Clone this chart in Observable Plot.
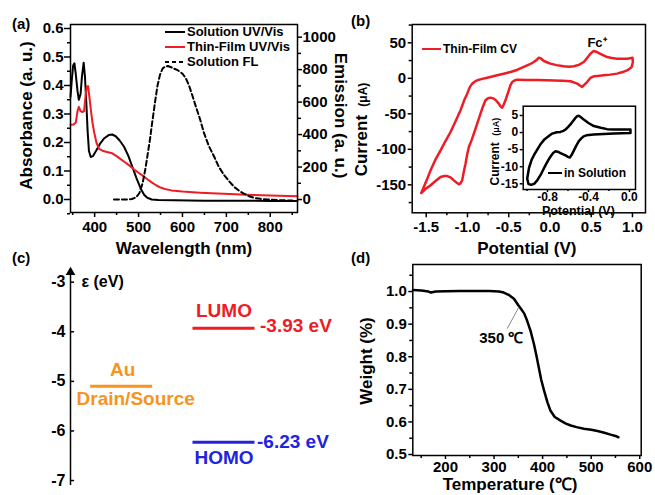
<!DOCTYPE html>
<html><head><meta charset="utf-8">
<script src="https://cdn.jsdelivr.net/npm/d3@7"></script>
<script src="https://cdn.jsdelivr.net/npm/@observablehq/plot@0.6"></script>
<style>
html,body{margin:0;padding:0;background:#fff;}
#root{position:relative;width:655px;height:495px;overflow:hidden;font-family:"Liberation Sans",Arial,sans-serif;font-weight:bold;color:#000;}
.panel{position:absolute;}
.panel svg{overflow:visible;display:block;}
.panel svg text{font-weight:bold;}
.plab{position:absolute;font-size:15px;font-weight:bold;line-height:17px;}
.leg{position:absolute;display:flex;align-items:center;height:16px;line-height:16px;font-weight:bold;white-space:nowrap;}
</style></head><body><div id="root"></div>
<script>
// ---------- Panel (a): UV/Vis absorbance and fluorescence ----------
const solWl  = [345,348,351,354,357,361,364,368,371,375,378,381,384,387,391,396,403,412,422,432,440,448,457,467,477,486,495,505,513,520,530,545,580,650,720,800,862];
const solAbs = [0.36,0.42,0.47,0.478,0.44,0.38,0.35,0.37,0.43,0.48,0.43,0.34,0.24,0.17,0.149,0.152,0.17,0.195,0.215,0.226,0.228,0.222,0.207,0.185,0.152,0.114,0.076,0.038,0.016,0.006,0.0,-0.002,-0.003,-0.004,-0.004,-0.005,-0.005];
const filmWl  = [345,352,357,361,364,368,372,376,379,382,385,388,391,395,399,404,410,420,430,440,450,460,470,480,490,500,510,520,530,540,550,560,575,600,640,680,720,760,800,840,862];
const filmAbs = [0.262,0.263,0.27,0.31,0.325,0.31,0.307,0.31,0.36,0.395,0.398,0.36,0.32,0.27,0.235,0.2,0.178,0.17,0.166,0.162,0.152,0.141,0.13,0.118,0.105,0.094,0.083,0.071,0.06,0.05,0.042,0.037,0.032,0.028,0.024,0.021,0.018,0.016,0.014,0.012,0.011];
const flWl = [444,470,485,495,502,509,515,520,526,531,537,543,549,555,561,567,574,581,590,600,608,615,622,630,640,649,660,672,683,695,707,718,730,741,752,763,778,794,815,832,850];
const flEm = [0,0,3,15,40,98,180,265,370,473,590,700,770,808,820,822,815,806,795,775,745,702,645,577,495,410,330,265,200,150,110,77,52,35,20,10,4,0,-3,-5,-6];
const seriesA = ["Solution UV/Vis", "Thin-Film UV/Vis", "Solution FL"];
const absTicks = [0,0.1,0.2,0.3,0.4,0.5,0.6];
const absMinor = [-0.05,0.05,0.15,0.25,0.35,0.45,0.55];
const wlTicks = [400,500,600,700,800];
const wlMinor = [350,450,550,650,750,850];
const emTicks = [0,200,400,600,800,1000];
const emMinor = [100,300,500,700,900];

// ---------- Panel (b): cyclic voltammetry ----------
const cvV = [-1.56,-1.50,-1.447,-1.39,-1.326,-1.27,-1.205,-1.15,-1.084,-1.04,-1.003,-0.97,-0.943,-0.91,-0.882,-0.82,-0.761,-0.70,-0.64,-0.56,-0.478,-0.40,-0.317,-0.25,-0.196,-0.16,-0.135,-0.11,-0.074,-0.03,0.006,0.08,0.168,0.23,0.29,0.35,0.41,0.45,0.49,0.53,0.57,0.63,0.693,0.75,0.814,0.87,0.935,0.99,1.0,
  1.005,0.99,0.96,0.935,0.88,0.814,0.73,0.652,0.58,0.53,0.49,0.45,0.39,0.33,0.25,0.15,0.05,-0.034,-0.15,-0.28,-0.397,-0.43,-0.458,-0.48,-0.499,-0.52,-0.539,-0.56,-0.58,-0.60,-0.62,-0.65,-0.68,-0.72,-0.75,-0.781,-0.81,-0.842,-0.88,-0.923,-0.95,-0.983,-1.003,-1.023,-1.045,-1.064,-1.085,-1.104,-1.13,-1.165,-1.20,-1.245,-1.28,-1.326,-1.38,-1.447,-1.50,-1.56];
const cvI = [-161.5,-145,-129.6,-115,-101.4,-89,-75.6,-62,-45,-31,-21.6,-12,-7.5,-4.5,-2.8,-0.8,0.9,2.6,4.2,6.5,8.9,11.8,16,19.5,23,26,29,28,24.4,22.3,20.7,18.6,16.9,16.4,16.9,19,23,28.5,34.7,38.5,37,33.5,30,28.5,27.7,27.5,27.7,28.5,29,
  23,16,13,11.3,8.8,6.6,5.2,4.2,3.4,2.8,0.5,-5.2,-12.2,-7.5,-4.2,-3.3,-3.0,-2.8,-2.5,-2.2,-1.9,-3.0,-5.2,-10,-16.9,-24,-31,-37,-41.3,-39.5,-35.7,-31.5,-28.6,-27.2,-28,-31,-39,-49.8,-63,-78,-87,-96.7,-107,-120,-132,-143.7,-148,-149.3,-147,-143.7,-140,-137.6,-137.5,-139,-144,-150.7,-155,-161.5];
const solV = [-0.998,-0.98,-0.955,-0.93,-0.90,-0.87,-0.83,-0.79,-0.754,-0.71,-0.673,-0.645,-0.624,-0.60,-0.576,-0.55,-0.527,-0.51,-0.494,-0.47,-0.446,-0.40,-0.348,-0.28,-0.218,-0.15,-0.088,0.01,
  0.01,-0.153,-0.348,-0.42,-0.446,-0.47,-0.494,-0.52,-0.543,-0.565,-0.582,-0.60,-0.624,-0.673,-0.70,-0.722,-0.745,-0.77,-0.795,-0.82,-0.86,-0.90,-0.93,-0.96,-0.985,-0.998];
const solI = [-13.5,-10.3,-8.0,-6.5,-5.0,-3.5,-2.0,-1.1,-0.3,0.1,0.2,0.5,0.9,1.6,2.4,3.4,4.3,4.8,4.9,4.4,3.8,2.8,1.9,1.4,1.0,0.9,0.9,0.9,
  -0.1,-0.3,-0.6,-0.8,-1.1,-1.7,-2.5,-3.9,-5.3,-6.6,-7.3,-7.1,-6.7,-6.0,-5.6,-5.5,-6.0,-7.0,-8.2,-9.6,-12.0,-14.0,-15.0,-15.3,-15.1,-13.5];
const cvTicks = [-150,-100,-50,0,50];
const cvMinor = [-175,-125,-75,-25,25,75];
const potTicks = [-1.5,-1.0,-0.5,0.0,0.5,1.0];
const potMinor = [-1.25,-0.75,-0.25,0.25,0.75];
const inTicksY = [-15,-10,-5,0,5];
const inTicksX = [-0.8,-0.4,0.0];
const inMinorX = [-1.0,-0.6,-0.2];

// ---------- Panel (c): energy levels ----------
const levelNames = ["Au", "LUMO", "HOMO"];
const levelEnergy = [-5.1, -3.93, -6.23];
const levelGroup = ["electrode", "semiconductor", "semiconductor"];
const energyTicks = [-7,-6,-5,-4,-3];

// ---------- Panel (d): TGA ----------
const tgaT = [133,150,165,170,180,200,230,260,290,310,320,330,341,350,355,362,368,375,382,387,392,397,403,410,416,425,437,448,458,470,485,500,513,527,540,550,556];
const tgaW = [1.005,1.003,1.0,0.997,1.0,1.001,1.002,1.002,1.002,1.0,0.997,0.99,0.978,0.958,0.948,0.933,0.911,0.88,0.84,0.805,0.768,0.73,0.696,0.66,0.635,0.615,0.604,0.595,0.589,0.584,0.579,0.576,0.572,0.567,0.561,0.557,0.553];
const tempTicks = [200,300,400,500,600];
const tempMinor = [150,250,350,450,550];
const wTicks = [0.5,0.6,0.7,0.8,0.9,1.0];
const wMinor = [0.55,0.65,0.75,0.85,0.95,1.05];
const onsetT = 350;

// ---------- helpers ----------
const RED = "#ee1c25", ORANGE = "#f7941d", BLUE = "#2323dd";
const FONT = "'Liberation Sans', Arial, sans-serif";
const root = document.getElementById("root");
function st(size){ return {fontFamily: FONT, fontSize: size + "px", fontWeight: "bold", background: "transparent", overflow: "visible", color: "black"}; }
function place(el, left, top, w){ const d = document.createElement("div"); d.className = "panel"; d.style.left = left + "px"; d.style.top = top + "px"; d.style.width = w + "px"; d.appendChild(el); root.appendChild(d); }
function zip(xs, ys){ return xs.map((x, i) => ({x, y: ys[i]})); }
const f1 = d => d.toFixed(1);
const none = () => "";
const T = {textAnchor: "middle", lineAnchor: "middle", fontWeight: "bold"};
function label(txt, left, top){ const s = document.createElement("div"); s.className = "plab"; s.style.left = left + "px"; s.style.top = top + "px"; s.textContent = txt; root.appendChild(s); }
function legendRow(txt, left, cy, size, stroke, dash, lineW){
  const r = document.createElement("div"); r.className = "leg"; r.style.left = left + "px"; r.style.top = (cy - 8) + "px"; r.style.fontSize = size + "px";
  r.innerHTML = `<svg width="${lineW}" height="16" style="overflow:visible"><line x1="0" x2="${lineW}" y1="8" y2="8" stroke="${stroke}" stroke-width="2" ${dash ? `stroke-dasharray="${dash}"` : ""}/></svg><span style="margin-left:2px">${txt}</span>`;
  root.appendChild(r);
}

// ---------- (a) ----------
const mA = {width: 330, height: 260, marginLeft: 70, marginRight: 33, marginTop: 24, marginBottom: 48};
place(Plot.plot({...mA,
  x: {domain: [345, 862]}, y: {domain: [-0.0456, 0.614]},
  style: st(15),
  marks: [
    Plot.axisY(absTicks, {tickSize: 6, tickPadding: 1, tickFormat: f1, label: null, strokeWidth: 1.5}),
    Plot.axisY(absMinor, {tickSize: 3, tickFormat: none, label: null, strokeWidth: 1.5}),
    Plot.axisX(wlTicks, {tickSize: 5, tickPadding: 4, tickFormat: String, label: null, strokeWidth: 1.5}),
    Plot.axisX(wlMinor, {tickSize: 3, tickFormat: none, label: null, strokeWidth: 1.5}),
    Plot.line(zip(solWl, solAbs), {x: "x", y: "y", stroke: "black", strokeWidth: 2}),
    Plot.line(zip(filmWl, filmAbs), {x: "x", y: "y", stroke: RED, strokeWidth: 2}),
    Plot.frame({stroke: "black", strokeWidth: 1.5}),
    Plot.text(["Absorbance (a. u.)"], {...T, text: d => d, frameAnchor: "left", rotate: -90, dx: -44, dy: -3, fontSize: 17}),
    Plot.text(["Wavelength (nm)"], {...T, text: d => d, frameAnchor: "bottom", dy: 36, fontSize: 17})
  ]
}), 0, 0, 330);
place(Plot.plot({...mA,
  x: {domain: [345, 862], axis: null}, y: {domain: [-80, 1078]},
  style: st(15),
  marks: [
    Plot.axisY(emTicks, {anchor: "right", tickSize: 4, tickPadding: 1, tickFormat: String, label: null, strokeWidth: 1.5}),
    Plot.axisY(emMinor, {anchor: "right", tickSize: 3, tickFormat: none, label: null, strokeWidth: 1.5}),
    Plot.line(zip(flWl, flEm), {x: "x", y: "y", stroke: "black", strokeWidth: 2, strokeDasharray: "5,3"}),
    Plot.text(["Emission (a. u.)"], {...T, text: d => d, frameAnchor: "right", rotate: 90, dx: 43, dy: -3, fontSize: 17})
  ]
}), 0, 0, 330);

// ---------- (b) ----------
place(Plot.plot({width: 325, height: 260, marginLeft: 81.7, marginRight: 10, marginTop: 24, marginBottom: 47.7,
  x: {domain: [-1.67, 1.158]}, y: {domain: [-189.4, 75.8]},
  style: st(15),
  marks: [
    Plot.axisY(cvTicks, {tickSize: 4, tickPadding: 2, tickFormat: String, label: null, strokeWidth: 1.5}),
    Plot.axisY(cvMinor, {tickSize: 3, tickFormat: none, label: null, strokeWidth: 1.5}),
    Plot.axisX(potTicks, {tickSize: 5, tickPadding: 4, tickFormat: f1, label: null, strokeWidth: 1.5}),
    Plot.axisX(potMinor, {tickSize: 3, tickFormat: none, label: null, strokeWidth: 1.5}),
    Plot.line(zip(cvV, cvI), {x: "x", y: "y", stroke: RED, strokeWidth: 2.5}),
    Plot.frame({stroke: "black", strokeWidth: 1.5}),
    Plot.text([{x: 0.57, y: 50}], {...T, x: "x", y: "y", text: () => "Fc\u207A", fontSize: 13}),
    Plot.text(["Current"], {...T, text: d => d, frameAnchor: "left", rotate: -90, dx: -51, dy: 27, fontSize: 17}),
    Plot.text(["(\u03BCA)"], {...T, text: d => d, frameAnchor: "left", rotate: -90, dx: -49, dy: -24, fontSize: 12}),
    Plot.text(["Potential (V)"], {...T, text: d => d, frameAnchor: "bottom", dx: -2, dy: 36, fontSize: 17})
  ]
}), 330, 0, 325);
// inset
place(Plot.plot({width: 170, height: 125, marginLeft: 52.7, marginRight: 5, marginTop: 10.7, marginBottom: 31,
  x: {domain: [-1.037, 0.059]}, y: {domain: [-16.67, 7.72]},
  style: st(12),
  marks: [
    Plot.frame({fill: "white", stroke: "none"}),
    Plot.axisY(inTicksY, {tickSize: 3, tickPadding: 2, tickFormat: String, label: null, strokeWidth: 1.5}),
    Plot.axisX(inTicksX, {tickSize: 3, tickPadding: 0, tickFormat: f1, label: null, strokeWidth: 1.5}),
    Plot.axisX(inMinorX, {tickSize: 2, tickFormat: none, label: null, strokeWidth: 1.5}),
    Plot.line(zip(solV, solI), {x: "x", y: "y", stroke: "black", strokeWidth: 2.5}),
    Plot.frame({stroke: "black", strokeWidth: 1.5}),
    Plot.text(["Current"], {...T, text: d => d, frameAnchor: "left", rotate: -90, dx: -28, dy: 16, fontSize: 12}),
    Plot.text(["(\u03BCA)"], {...T, text: d => d, frameAnchor: "left", rotate: -90, dx: -27, dy: -21, fontSize: 9}),
    Plot.text(["Potential (V)"], {...T, text: d => d, frameAnchor: "bottom", dx: -1, dy: 21.5, fontSize: 12.5})
  ]
}), 470, 95, 170);

// ---------- (c) ----------
const groupPos = {electrode: 0.5, semiconductor: 1.5};
const halfW = 0.303;
const levels = levelNames.map((n, i) => ({name: n, e: levelEnergy[i], g: levelGroup[i]}));
const levelColor = {Au: ORANGE, LUMO: RED, HOMO: BLUE};
const cMarks = [
  Plot.ruleX([0], {y1: -7.1, y2: -2.8, strokeWidth: 1.5}),
  Plot.dot([{x: 0, y: -2.8}], {x: "x", y: "y", symbol: "triangle", r: 3.6, fill: "black", stroke: "none"}),
  Plot.ruleY(energyTicks, {x1: 0, x2: 0.04, strokeWidth: 1.5}),
  Plot.axisY(energyTicks, {tickSize: 0, tickPadding: 5, tickFormat: String, label: null}),
  Plot.text([{x: 0, y: -3}], {x: "x", y: "y", text: () => "\u03B5 (eV)", textAnchor: "start", dx: 11, fontSize: 16})
];
for (const lv of levels) {
  const c = levelColor[lv.name];
  cMarks.push(Plot.ruleY([lv], {y: "e", x1: d => groupPos[d.g] - halfW, x2: d => groupPos[d.g] + halfW, stroke: c, strokeWidth: 3}));
  if (lv.g === "electrode") {
    cMarks.push(Plot.text([lv], {...T, x: d => groupPos[d.g], y: "e", text: "name", fill: c, dy: -16, dx: 1, fontSize: 19}));
    cMarks.push(Plot.text([lv], {...T, x: d => groupPos[d.g], y: "e", text: () => "Drain/Source", fill: c, dy: 13, dx: 14, fontSize: 19}));
  } else {
    cMarks.push(Plot.text([lv], {...T, x: d => groupPos[d.g], y: "e", text: "name", fill: c, dy: lv.e > -5 ? -17 : 16, fontSize: 19}));
    cMarks.push(Plot.text([lv], {...T, x: d => groupPos[d.g] + halfW, y: "e", text: d => d.e.toFixed(2) + " eV", fill: c, textAnchor: "start", dx: lv.e > -5 ? 5 : 2, dy: lv.e > -5 ? -2 : 0, fontSize: 19}));
  }
}
place(Plot.plot({width: 330, height: 245, marginLeft: 70, marginRight: 0, marginTop: 19.3, marginBottom: 10,
  x: {domain: [0, 2.541], axis: null}, y: {domain: [-7.1, -2.75]},
  style: st(16),
  marks: cMarks
}), 0, 250, 330);

// ---------- (d) ----------
place(Plot.plot({width: 325, height: 245, marginLeft: 82.3, marginRight: 14.3, marginTop: 14, marginBottom: 40,
  x: {domain: [132.7, 603]}, y: {domain: [0.497, 1.083]},
  style: st(15),
  marks: [
    Plot.axisY(wTicks, {tickSize: 4, tickPadding: 2, tickFormat: f1, label: null, strokeWidth: 1.5}),
    Plot.axisY(wMinor, {tickSize: 3, tickFormat: none, label: null, strokeWidth: 1.5}),
    Plot.axisX(tempTicks, {tickSize: 4, tickPadding: 2, tickFormat: String, label: null, strokeWidth: 1.5}),
    Plot.axisX(tempMinor, {tickSize: 3, tickFormat: none, label: null, strokeWidth: 1.5}),
    Plot.line(zip(tgaT, tgaW), {x: "x", y: "y", stroke: "black", strokeWidth: 2.5}),
    Plot.link([{x1: onsetT + 1, y1: 0.952, x2: 327, y2: 0.886}], {x1: "x1", y1: "y1", x2: "x2", y2: "y2", stroke: "#888", strokeWidth: 1}),
    Plot.text([{x: 315, y: 0.856}], {...T, x: "x", y: "y", text: () => onsetT + " \u2103", fontSize: 15}),
    Plot.frame({stroke: "black", strokeWidth: 1.5}),
    Plot.text(["Weight (%)"], {...T, text: d => d, frameAnchor: "left", rotate: -90, dx: -46, dy: 1, fontSize: 17}),
    Plot.text(["Temperature (\u2103)"], {...T, text: d => d, frameAnchor: "bottom", dx: -17, dy: 29, fontSize: 17})
  ]
}), 330, 250, 325);

// ---------- legends & panel labels ----------
legendRow(seriesA[0], 165, 32, 13, "black", null, 20);
legendRow(seriesA[1], 165, 47, 13, RED, null, 20);
legendRow(seriesA[2], 165, 62, 13, "black", "4,3", 20);
legendRow("Thin-Film CV", 422, 49, 12, RED, null, 19);
legendRow("in Solution", 548, 173, 12, "black", null, 14);
label("(a)", 12, 15); label("(b)", 351, 12); label("(c)", 12, 249); label("(d)", 351, 249);
</script></body></html>
